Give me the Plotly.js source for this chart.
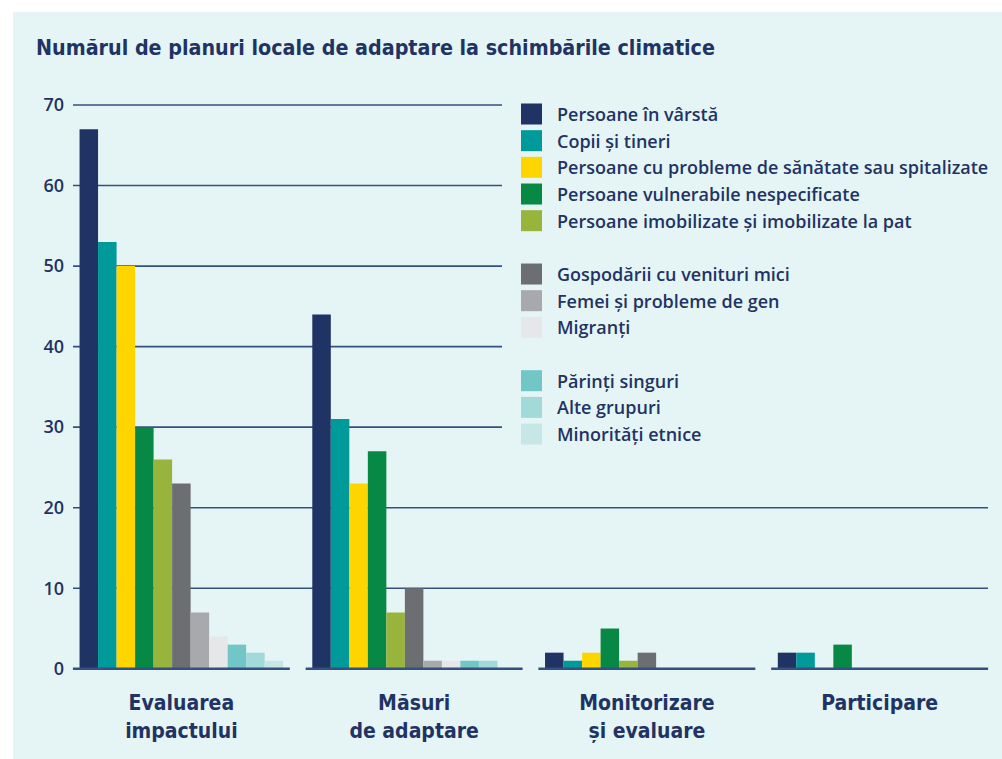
<!DOCTYPE html>
<html>
<head>
<meta charset="utf-8">
<script src="https://cdn.plot.ly/plotly-3.0.1.min.js"></script>
<style>html,body{margin:0;padding:0;background:#fff;}#chart{width:1002px;height:759px;}</style>
</head>
<body>
<div id="chart"></div>
<script>
// ---- data ----
var categories = ['Evaluarea<br>impactului', 'Măsuri<br>de adaptare', 'Monitorizare<br>și evaluare', 'Participare'];
var seriesNames = [
  'Persoane în vârstă',
  'Copii și tineri',
  'Persoane cu probleme de sănătate sau spitalizate',
  'Persoane vulnerabile nespecificate',
  'Persoane imobilizate și imobilizate la pat',
  'Gospodării cu venituri mici',
  'Femei și probleme de gen',
  'Migranți',
  'Părinți singuri',
  'Alte grupuri',
  'Minorități etnice'
];
var persoaneVarsta   = [67, 44, 2, 2];
var copiiTineri      = [53, 31, 1, 2];
var problemeSanatate = [50, 23, 2, 0];
var vulnerabile      = [30, 27, 5, 3];
var imobilizate      = [26, 7, 1, 0];
var gospodarii       = [23, 10, 2, 0];
var femeiGen         = [7, 1, 0, 0];
var migranti         = [4, 1, 0, 0];
var parintiSinguri   = [3, 1, 0, 0];
var alteGrupuri      = [2, 1, 0, 0];
var minoritati       = [1, 0, 0, 0];
var seriesValues = [persoaneVarsta, copiiTineri, problemeSanatate, vulnerabile, imobilizate,
  gospodarii, femeiGen, migranti, parintiSinguri, alteGrupuri, minoritati];
var legendGroupOf = [0,0,0,0,0,1,1,1,2,2,2];
var yTickValues = [0, 10, 20, 30, 40, 50, 60, 70];

// ---- styles ----
var colors = ['#1f3364','#009a9a','#ffd500','#078844','#99b43c','#6d6e71','#a7a9ac','#e6e7e9','#72c6c6','#a2d9d9','#c6e7e6'];
var navy = '#1f3364';
var bodyFont = 'Open Sans, Inter, sans-serif';
var condFont = 'DejaVu Sans Condensed, Liberation Sans Narrow, DejaVu Sans, sans-serif';

var W = 1002, H = 759;
var mL = 65, mR = 6, mT = 101, mB = 87;
var plotW = W - mL - mR, plotH = H - mT - mB;
function px(x){ return (x - mL) / plotW; }
function py(y){ return (H - mB - y) / plotH; }

var traces = seriesNames.map(function(name, i){
  return {
    type: 'bar', name: name, x: categories, y: seriesValues[i],
    marker: {color: colors[i], line: {width: 0}},
    showlegend: false, hoverinfo: 'x+y+name'
  };
});

var shapes = [];
// panel
shapes.push({type:'rect', xref:'paper', yref:'paper', x0: px(13), x1: px(1010), y0: py(770), y1: py(12),
  fillcolor:'#e5f5f5', line:{width:0}, layer:'below'});
// gridlines
yTickValues.forEach(function(v){
  if (v === 0) return;
  shapes.push({type:'line', xref:'paper', yref:'y', x0: px(73), x1: v >= 30 ? px(502) : px(988), y0: v, y1: v,
    line:{color:'#34507e', width:1.6}, layer:'below'});
});
// baseline segments per category
categories.forEach(function(c, i){
  shapes.push({type:'line', xref:'x', yref:'y', x0: i - 0.466, x1: i + 0.466, y0: 0, y1: 0,
    line:{color:'#34507e', width:2.4}, layer:'above'});
});

var annotations = [];
// custom legend
var rowPitch = 26.67, firstRow = 114;
seriesNames.forEach(function(name, i){
  var row = i + legendGroupOf[i];
  var cy = firstRow + row * rowPitch;
  shapes.push({type:'rect', xref:'paper', yref:'paper', x0: px(521), x1: px(542), y0: py(cy + 10.5), y1: py(cy - 10.5),
    fillcolor: colors[i], line:{width:0}});
  annotations.push({xref:'paper', yref:'paper', x: px(555), y: py(cy), xanchor:'left', yanchor:'middle',
    text: name, showarrow:false, font:{family: bodyFont, size:18, color: navy, weight:600}});
});

var layout = {
  width: W, height: H,
  margin: {l: mL, r: mR, t: mT, b: mB, pad: 0},
  paper_bgcolor: '#ffffff',
  plot_bgcolor: 'rgba(0,0,0,0)',
  barmode: 'group', bargap: 0.125, bargroupgap: 0,
  title: {text: 'Numărul de planuri locale de adaptare la schimbările climatice',
    xref:'container', yref:'container', x: 36/W, xanchor:'left', y: 1 - 48/H, yanchor:'middle',
    font:{family: condFont, size: 21.3, color: navy, weight: 700}},
  xaxis: {type:'category', showgrid:false, zeroline:false, showline:false,
    ticks:'outside', ticklen: 12, tickcolor:'rgba(0,0,0,0)',
    tickfont:{family: condFont, size: 21, color: navy, weight: 700}},
  yaxis: {range:[-0.4, 70.5], tickvals: yTickValues, showgrid:false, zeroline:false, showline:false,
    ticks:'', tickfont:{family: bodyFont, size: 18, color: navy, weight: 600}},
  shapes: shapes,
  annotations: annotations,
  showlegend: false
};

Plotly.newPlot('chart', traces, layout, {displayModeBar:false, staticPlot:true});
</script>
</body>
</html>
